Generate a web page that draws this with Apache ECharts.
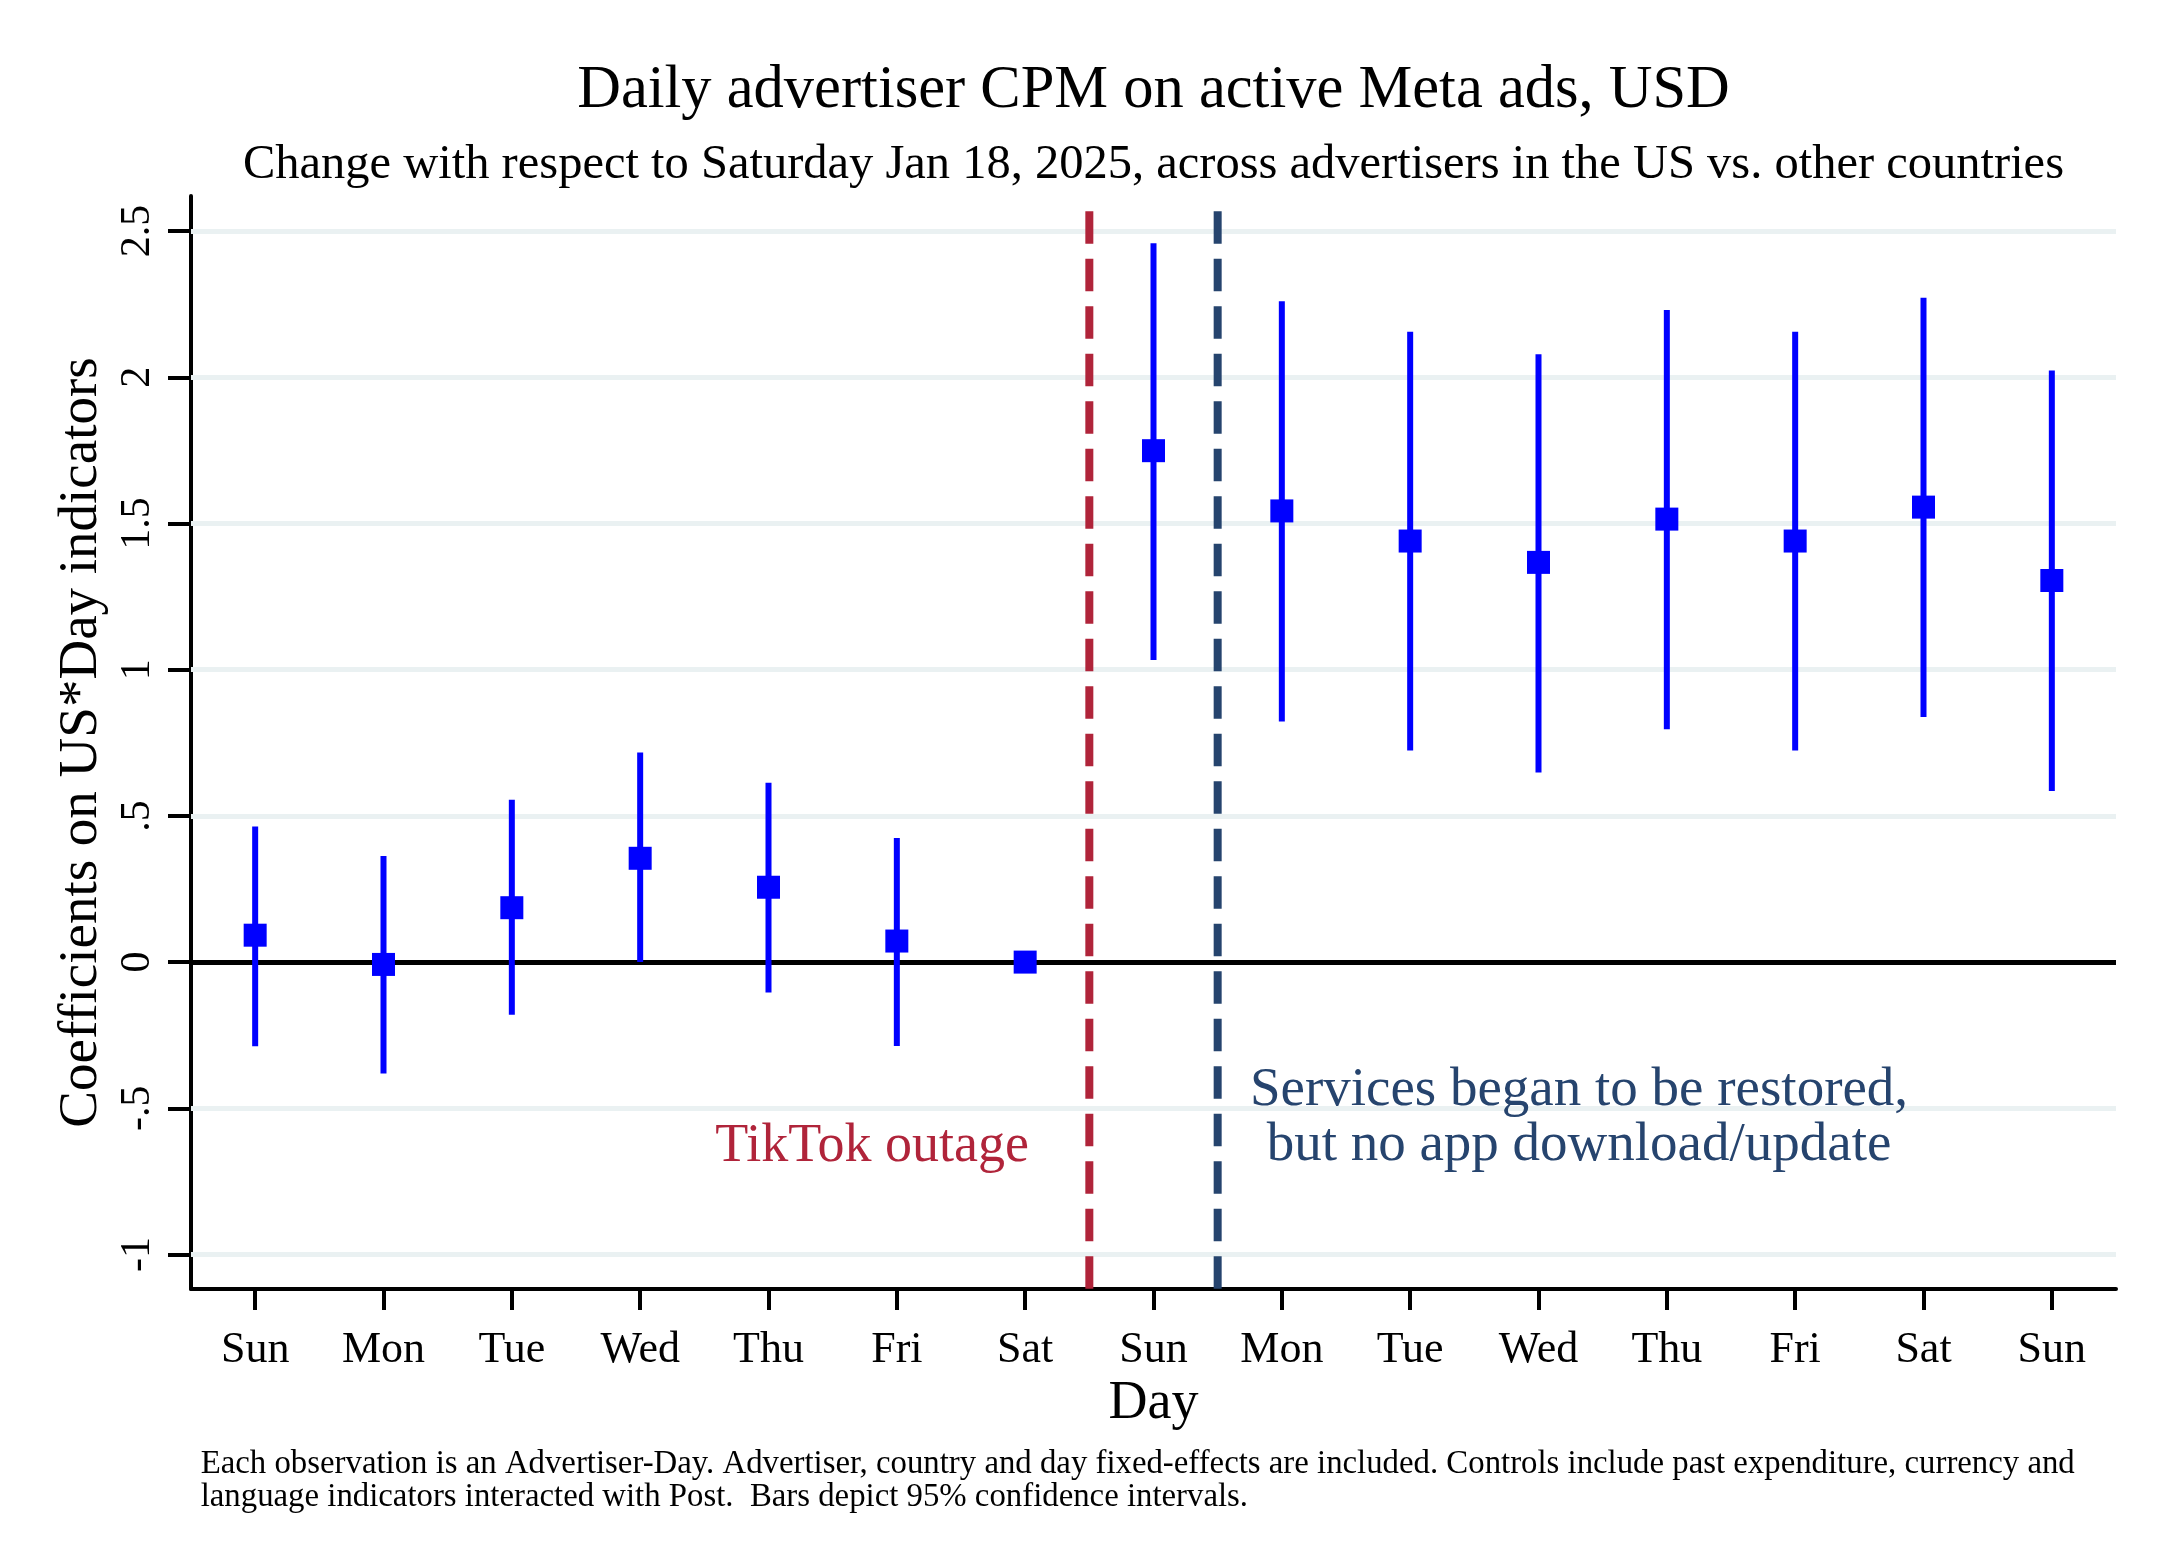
<!DOCTYPE html>
<html><head><meta charset="utf-8">
<script src="https://cdn.jsdelivr.net/npm/echarts@6/dist/echarts.min.js"></script>
<style>html,body{margin:0;padding:0;background:#fff}#c{width:2164px;height:1568px}</style>
</head><body><div id="c"></div>
<script>
const days = ['Sun','Mon','Tue','Wed','Thu','Fri','Sat','Sun','Mon','Tue','Wed','Thu','Fri','Sat','Sun'];
const coef   = [0.092, -0.008, 0.186, 0.355, 0.256, 0.072, 0, 1.749, 1.543, 1.440, 1.367, 1.515, 1.440, 1.556, 1.305];
const ciLow  = [-0.288, -0.381, -0.180, 0.000, -0.104, -0.287, null, 1.033, 0.823, 0.724, 0.648, 0.796, 0.724, 0.838, 0.585];
const ciHigh = [0.464, 0.363, 0.555, 0.717, 0.613, 0.424, null, 2.458, 2.260, 2.156, 2.079, 2.230, 2.156, 2.272, 2.023];
const yTicks = [-1, -0.5, 0, 0.5, 1, 1.5, 2, 2.5];
const yTickLabels = ['-1', '-.5', '0', '.5', '1', '1.5', '2', '2.5'];
const eventX = [6.5, 7.5];
const eventColors = ['#b0243a', '#26446e'];
const eventTop = 2.568;

const FONT = '"Liberation Serif", "Times New Roman", serif';
const Y_MIN = -1.118, Y_MAX = 2.62;
const xIdx = days.map((d, i) => i);

const chart = echarts.init(document.getElementById('c'));

const ciData = [];
xIdx.forEach(i => { if (ciLow[i] !== null) ciData.push([i, ciLow[i], ciHigh[i]]); });

const series = [
  {
    type: 'line', data: [], z: 1, silent: true,
    markLine: {
      silent: true, symbol: 'none', label: { show: false },
      animation: false, z: 1,
      data: yTicks.map(v => ({
        yAxis: v,
        lineStyle: v === 0 ? { color: '#000', width: 5, type: 'solid' } : { color: '#eaf1f2', width: 5, type: 'solid' }
      }))
    }
  }
];
eventX.forEach((x, k) => {
  series.push({
    type: 'line', z: 3, silent: true, symbol: 'none', animation: false,
    data: [[x, eventTop], [x, Y_MIN]],
    lineStyle: { color: eventColors[k], width: 8, type: [32.5, 15] }
  });
});
series.push({
  type: 'custom', z: 4, silent: true, animation: false,
  data: ciData,
  encode: { x: 0, y: [1, 2] },
  renderItem: function (params, api) {
    const p1 = api.coord([api.value(0), api.value(1)]);
    const p2 = api.coord([api.value(0), api.value(2)]);
    return { type: 'line', shape: { x1: p1[0], y1: p1[1], x2: p2[0], y2: p2[1] },
      style: { stroke: '#0000ff', lineWidth: 6 } };
  }
});
series.push({
  type: 'scatter', z: 5, silent: true, animation: false,
  symbol: 'rect', symbolSize: 23,
  itemStyle: { color: '#0000ff', opacity: 1 },
  data: xIdx.map(i => [i, coef[i]])
});

function txt(text, x, y, size, color, align, lh) {
  const style = { text: text, fill: color, font: size + 'px ' + FONT, align: align, verticalAlign: 'top' };
  if (lh) style.lineHeight = lh;
  return { type: 'text', x: x, y: y, style: style, z: 10 };
}

chart.setOption({
  animation: false,
  backgroundColor: '#fff',
  grid: { left: 191, right: 48, top: 196, bottom: 279, containLabel: false },
  xAxis: {
    type: 'value', min: -0.5, max: 14.5,
    axisLine: { show: true, onZero: false, lineStyle: { color: '#000', width: 4 } },
    axisTick: { show: true, customValues: xIdx, length: 21, lineStyle: { color: '#000', width: 4 } },
    axisLabel: { customValues: xIdx, formatter: v => days[Math.round(v)], fontSize: 44, fontFamily: FONT, color: '#000', margin: 39 },
    splitLine: { show: false },
    name: 'Day', nameLocation: 'middle', nameGap: 81,
    nameTextStyle: { fontSize: 54, fontFamily: FONT, color: '#000' }
  },
  yAxis: {
    type: 'value', min: Y_MIN, max: Y_MAX,
    axisLine: { show: true, onZero: false, lineStyle: { color: '#000', width: 4 } },
    axisTick: { show: true, customValues: yTicks, length: 23, lineStyle: { color: '#000', width: 4 } },
    axisLabel: {
      customValues: yTicks, rotate: 90, fontSize: 42, fontFamily: FONT, color: '#000', margin: 32,
      formatter: v => { const k = yTicks.findIndex(t => Math.abs(t - v) < 1e-6); return k >= 0 ? yTickLabels[k] : ''; }
    },
    splitLine: { show: false },
    name: 'Coefficients on US*Day indicators', nameLocation: 'middle', nameGap: 73,
    nameTextStyle: { fontSize: 55, fontFamily: FONT, color: '#000' }
  },
  series: series,
  graphic: [
    txt('Daily advertiser CPM on active Meta ads, USD', 1153.5, 61, 60.5, '#000', 'center'),
    txt('Change with respect to Saturday Jan 18, 2025, across advertisers in the US vs. other countries', 1153.5, 141, 48.5, '#000', 'center'),
    txt('TikTok outage', 1029, 1119.5, 54, eventColors[0], 'right'),
    txt('Services began to be restored,\nbut no app download/update', 1579, 1063, 55, eventColors[1], 'center', 55),
    txt('Each observation is an Advertiser-Day. Advertiser, country and day fixed-effects are included. Controls include past expenditure, currency and\nlanguage indicators interacted with Post.  Bars depict 95% confidence intervals.', 200.7, 1448, 32.8, '#000', 'left', 33)
  ]
});
</script>
</body></html>
